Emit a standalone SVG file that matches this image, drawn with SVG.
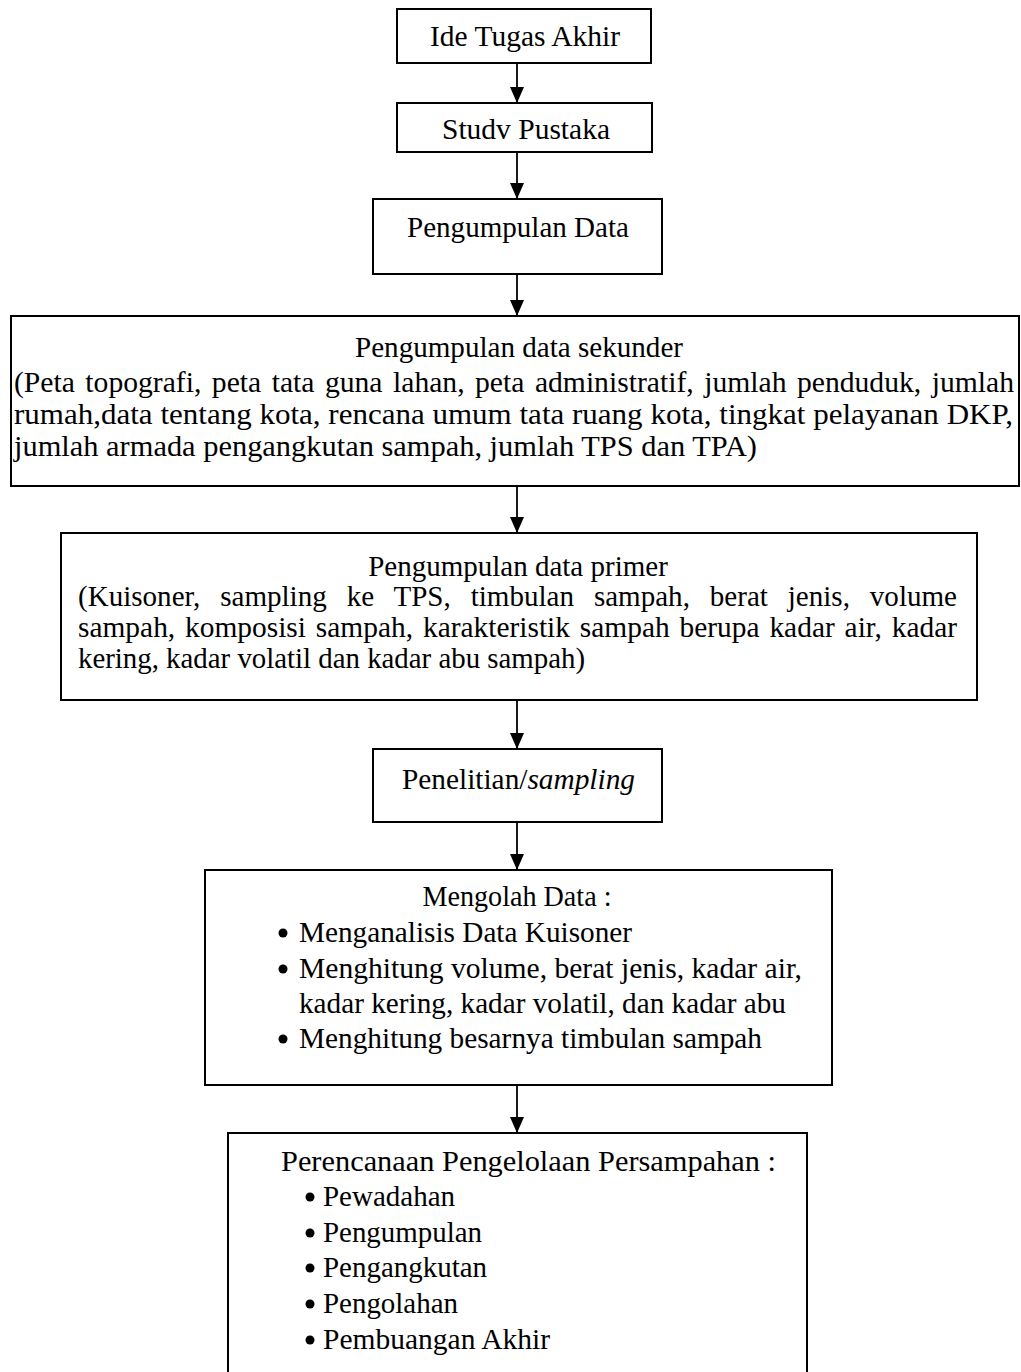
<svg xmlns="http://www.w3.org/2000/svg" width="1021" height="1372" viewBox="0 0 1021 1372">
<style>
.box{fill:#fff;stroke:#000;stroke-width:2}
.t{font-family:"Liberation Serif","Times New Roman",serif;font-size:29px;fill:#000}
.c{text-anchor:middle}
.conn{stroke:#000;stroke-width:1.8;fill:none}
.dot{fill:#000}
</style>
<defs>
<marker id="ah" markerUnits="userSpaceOnUse" markerWidth="16" markerHeight="14" refX="16" refY="7" orient="auto">
<path d="M0,0 L16,7 L0,14 Z" fill="#000"/>
</marker>
</defs>
<rect width="1021" height="1372" fill="#fff"/>

<g id="connectors">
<line class="conn" x1="517" y1="63" x2="517" y2="103" marker-end="url(#ah)"/>
<line class="conn" x1="517" y1="152" x2="517" y2="199" marker-end="url(#ah)"/>
<line class="conn" x1="517" y1="274" x2="517" y2="316" marker-end="url(#ah)"/>
<line class="conn" x1="517" y1="486" x2="517" y2="533" marker-end="url(#ah)"/>
<line class="conn" x1="517" y1="700" x2="517" y2="749" marker-end="url(#ah)"/>
<line class="conn" x1="517" y1="822" x2="517" y2="870" marker-end="url(#ah)"/>
<line class="conn" x1="517" y1="1085" x2="517" y2="1133" marker-end="url(#ah)"/>
</g>

<g id="node-ide">
<rect class="box" x="397" y="9" width="254" height="54"/>
<text class="t c" x="525" y="46" textLength="190" lengthAdjust="spacingAndGlyphs">Ide Tugas Akhir</text>
</g>

<g id="node-studi">
<rect class="box" x="397" y="103" width="255" height="49"/>
<text class="t c" x="526" y="139" textLength="168" lengthAdjust="spacingAndGlyphs">Studv Pustaka</text>
</g>

<g id="node-pengumpulan">
<rect class="box" x="373" y="199" width="289" height="75"/>
<text class="t c" x="518" y="237" textLength="222" lengthAdjust="spacingAndGlyphs">Pengumpulan Data</text>
</g>

<g id="node-sekunder">
<rect class="box" x="11" y="316" width="1008" height="170"/>
<text class="t c" x="519" y="357" textLength="328" lengthAdjust="spacingAndGlyphs">Pengumpulan data sekunder</text>
<text class="t" x="14" y="392" textLength="1000" lengthAdjust="spacingAndGlyphs" word-spacing="3">(Peta topografi, peta tata guna lahan, peta administratif, jumlah penduduk, jumlah</text>
<text class="t" x="14" y="424" textLength="999" lengthAdjust="spacingAndGlyphs">rumah,data tentang kota, rencana umum tata ruang kota, tingkat pelayanan DKP,</text>
<text class="t" x="14" y="456" textLength="743" lengthAdjust="spacingAndGlyphs">jumlah armada pengangkutan sampah, jumlah TPS dan TPA)</text>
</g>

<g id="node-primer">
<rect class="box" x="61" y="533" width="916" height="167"/>
<text class="t c" x="518" y="576">Pengumpulan data primer</text>
<text class="t" x="78" y="606" textLength="879" lengthAdjust="spacingAndGlyphs" word-spacing="12.6">(Kuisoner, sampling ke TPS, timbulan sampah, berat jenis, volume</text>
<text class="t" x="78" y="637" textLength="879" lengthAdjust="spacingAndGlyphs" word-spacing="2.5">sampah, komposisi sampah, karakteristik sampah berupa kadar air, kadar</text>
<text class="t" x="78" y="668" textLength="507" lengthAdjust="spacingAndGlyphs">kering, kadar volatil dan kadar abu sampah)</text>
</g>

<g id="node-penelitian">
<rect class="box" x="373" y="749" width="289" height="73"/>
<text class="t" x="402" y="789" textLength="233" lengthAdjust="spacingAndGlyphs">Penelitian/<tspan font-style="italic">sampling</tspan></text>
</g>

<g id="node-mengolah">
<rect class="box" x="205" y="870" width="627" height="215"/>
<text class="t c" x="517" y="906" textLength="189" lengthAdjust="spacingAndGlyphs">Mengolah Data :</text>
<circle class="dot" cx="283" cy="933" r="4.5"/>
<text class="t" x="299" y="942" textLength="333" lengthAdjust="spacingAndGlyphs">Menganalisis Data Kuisoner</text>
<circle class="dot" cx="283" cy="969" r="4.5"/>
<text class="t" x="299" y="978" textLength="503" lengthAdjust="spacingAndGlyphs">Menghitung volume, berat jenis, kadar air,</text>
<text class="t" x="299" y="1013" textLength="487" lengthAdjust="spacingAndGlyphs">kadar kering, kadar volatil, dan kadar abu</text>
<circle class="dot" cx="283" cy="1039" r="4.5"/>
<text class="t" x="299" y="1048" textLength="463" lengthAdjust="spacingAndGlyphs">Menghitung besarnya timbulan sampah</text>
</g>

<g id="node-perencanaan">
<rect class="box" x="228" y="1133" width="579" height="260"/>
<text class="t" x="281" y="1171" textLength="495" lengthAdjust="spacingAndGlyphs">Perencanaan Pengelolaan Persampahan :</text>
<circle class="dot" cx="310" cy="1197" r="4.5"/>
<text class="t" x="323" y="1206" textLength="132" lengthAdjust="spacingAndGlyphs">Pewadahan</text>
<circle class="dot" cx="310" cy="1233" r="4.5"/>
<text class="t" x="323" y="1242" textLength="159" lengthAdjust="spacingAndGlyphs">Pengumpulan</text>
<circle class="dot" cx="310" cy="1268" r="4.5"/>
<text class="t" x="323" y="1277" textLength="164" lengthAdjust="spacingAndGlyphs">Pengangkutan</text>
<circle class="dot" cx="310" cy="1304" r="4.5"/>
<text class="t" x="323" y="1313" textLength="135" lengthAdjust="spacingAndGlyphs">Pengolahan</text>
<circle class="dot" cx="310" cy="1340" r="4.5"/>
<text class="t" x="323" y="1349" textLength="227" lengthAdjust="spacingAndGlyphs">Pembuangan Akhir</text>
</g>
</svg>
